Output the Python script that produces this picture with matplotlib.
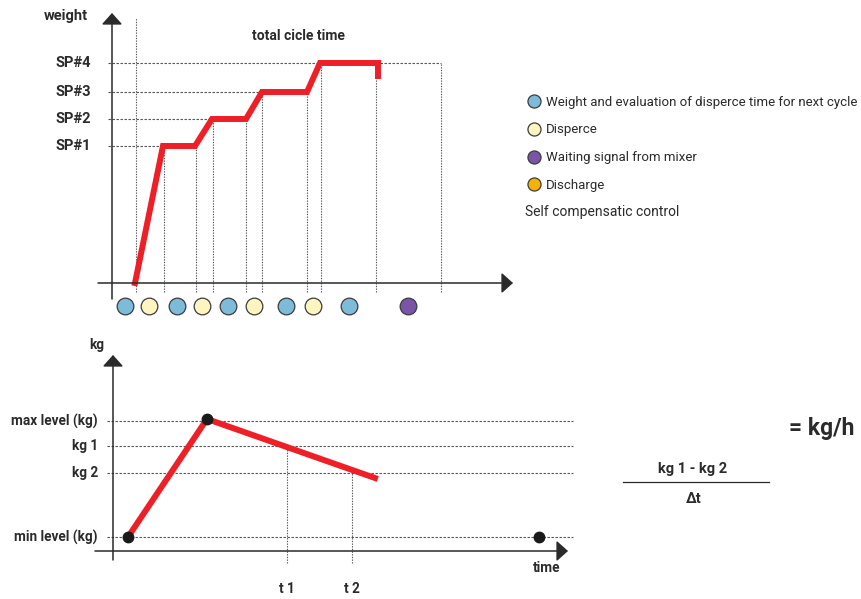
import numpy as np
import matplotlib
matplotlib.use('Agg')
from matplotlib import pyplot as plt
from matplotlib.lines import Line2D

plt.rcParams['font.family'] = ['Roboto', 'DejaVu Sans']

# ---- top chart: dosing cycle (time, weight) ----
sp_labels = ['SP#1', 'SP#2', 'SP#3', 'SP#4']
sp_levels = [137, 164, 191, 220]
sp_line_end = [51, 100, 150, 329]          # where each dashed set-point line stops

cycle_t = [23, 51, 83, 100, 134, 150, 195, 208, 266, 266]
cycle_w = [0, 137, 137, 164, 164, 191, 191, 220, 220, 207]

mark_t = [52, 84, 101, 134, 150, 195, 209, 264, 329]   # dotted phase marks
mark_top = [137, 137, 164, 164, 191, 191, 220, 207, 220]
first_mark_t = 24

event_t = [13, 37, 65, 90, 116, 142, 174, 201, 237, 296]
event_kind = ['w', 'd', 'w', 'd', 'w', 'd', 'w', 'd', 'w', 'm']

kind_colors = {'w': '#7dbbd9', 'd': '#fcf5c0', 'm': '#7a54a6', 'x': '#f6b400'}
legend_items = [('w', 'Weight and evaluation of disperce time for next cycle'),
                ('d', 'Disperce'),
                ('m', 'Waiting signal from mixer'),
                ('x', 'Discharge')]

# ---- bottom chart: self compensating control (time, kg) ----
level_labels = ['min level (kg)', 'kg 2', 'kg 1', 'max level (kg)']
level_values = [14, 78, 105, 130]

flow_t = [15, 94, 262]
flow_kg = [14, 132, 73]
dot_t = [15, 94, 426]
dot_kg = [14, 132, 14]
t_marks = [174, 239]
t_mark_top = [105, 78]
t_labels = ['t 1', 't 2']

RED = '#ee1f26'
AX = '#2a2a2a'
DASH = '#555555'
TXT = '#2b2b2b'

W, H = 862, 599
fig = plt.figure(figsize=(W / 100, H / 100), dpi=100)


def px_axes(x0, x1, y0, y1):
    ax = fig.add_axes([x0 / W, 1 - y1 / H, (x1 - x0) / W, (y1 - y0) / H])
    ax.set_axis_off()
    return ax


def arrow(ax, start, tip):
    ax.annotate('', xy=tip, xytext=start,
                arrowprops=dict(arrowstyle='-|>,head_length=0.5,head_width=0.45',
                                mutation_scale=14, lw=1.1, color=AX,
                                shrinkA=0, shrinkB=0))


# top axes, origin at the crossing of the two arrows
ax1 = px_axes(90, 520, 5, 300)
ax1.set_xlim(-22, 408)
ax1.set_ylim(-17, 278)

dash = (0, (2.2, 1.4))
for lev, end in zip(sp_levels, sp_line_end):
    ax1.plot([-4, end], [lev, lev], color=DASH, lw=0.8, ls=dash, zorder=1)
ax1.plot([first_mark_t, first_mark_t], [-9, 265], color=DASH, lw=0.8, ls=(0, (1.2, 1.2)), zorder=1)
for t, top in zip(mark_t, mark_top):
    ax1.plot([t, t], [-9, top], color=DASH, lw=0.8, ls=(0, (1.2, 1.2)), zorder=1)

ax1.plot(cycle_t, cycle_w, color=RED, lw=4.3, solid_joinstyle='miter', zorder=3)

arrow(ax1, (0, -16), (0, 270))
arrow(ax1, (-14, 0), (401, 0))

for lab, lev in zip(sp_labels, sp_levels):
    ax1.text(-21, lev, lab, ha='right', va='center', fontsize=10.5, fontweight='bold', color=TXT)
ax1.text(-24, 267, 'weight', ha='right', va='center', fontsize=10.5, fontweight='bold', color=TXT)
ax1.text(186, 247, 'total cicle time', ha='center', va='center', fontsize=10, fontweight='bold', color=TXT)

for t, k in zip(event_t, event_kind):
    ax1.plot(t, -23, 'o', ms=12, mfc=kind_colors[k], mec='#3c3c3c', mew=0.9, clip_on=False, zorder=4)

# legend
handles = [Line2D([], [], ls='', marker='o', ms=9.4, mfc=kind_colors[k], mec='#3c3c3c', mew=0.9)
           for k, _ in legend_items]
fig.legend(handles, [lab for _, lab in legend_items], loc='upper left',
           bbox_to_anchor=(521 / W, 1 - 89 / H), frameon=False, fontsize=9.5,
           handlelength=0.9, handletextpad=0.5, labelspacing=1.12, borderpad=0,
           labelcolor=TXT)
fig.text(525 / W, 1 - 212 / H, 'Self compensatic control', ha='left', va='center',
         fontsize=10, color=TXT)

# bottom axes
ax2 = px_axes(80, 590, 340, 575)
ax2.set_xlim(-33, 477)
ax2.set_ylim(-24, 211)

for lev in level_values:
    ax2.plot([-6, 460], [lev, lev], color=DASH, lw=0.8, ls=dash, zorder=1)
for t, top in zip(t_marks, t_mark_top):
    ax2.plot([t, t], [-12, top], color=DASH, lw=0.8, ls=(0, (1.2, 1.2)), zorder=1)

ax2.plot(flow_t, flow_kg, color=RED, lw=4.3, zorder=3)
ax2.plot(dot_t, dot_kg, 'o', ms=7.5, color='#1a1a1a', ls='', zorder=4)

arrow(ax2, (0, -9), (0, 196))
arrow(ax2, (-18, 0), (455, 0))

for lab, lev in zip(level_labels, level_values):
    ax2.text(-15, lev, lab, ha='right', va='center', fontsize=9.8, fontweight='bold', color=TXT)
ax2.text(-16, 206, 'kg', ha='center', va='center', fontsize=9.8, fontweight='bold', color=TXT)
ax2.text(434, -17, 'time', ha='center', va='center', fontsize=9.8, fontweight='bold', color=TXT)
for t, lab in zip(t_marks, t_labels):
    ax2.text(t, -38, lab, ha='center', va='center', fontsize=9.8, fontweight='bold', color=TXT)

# formula
fig.text(822 / W, 1 - 428 / H, '= kg/h', ha='center', va='center', fontsize=16.5,
         fontweight='bold', color=TXT)
fig.text(693 / W, 1 - 469 / H, 'kg 1 - kg 2', ha='center', va='center', fontsize=10.5,
         fontweight='bold', color=TXT)
fig.text(694 / W, 1 - 499 / H, 'Δt', ha='center', va='center', fontsize=10.5,
         fontweight='bold', color=TXT)
fig.add_artist(Line2D([623 / W, 769 / W], [1 - 482 / H, 1 - 482 / H], color=AX, lw=0.9))

fig.savefig('out.png', dpi=100)
